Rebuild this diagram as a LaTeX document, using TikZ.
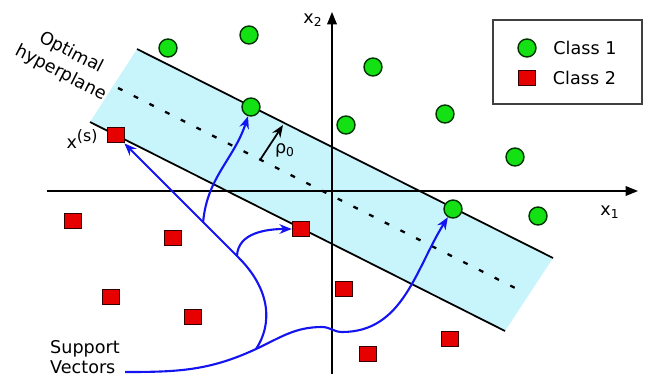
\documentclass[tikz,border=0pt]{standalone}
\usepackage{fontspec}
\setmainfont{DejaVu Sans}
\usepackage{xcolor}
\usetikzlibrary{arrows.meta, positioning, calc}
\definecolor{bandcyan}{RGB}{200,244,251}
\definecolor{ptgreen}{RGB}{20,225,20}
\definecolor{ptred}{RGB}{230,0,0}
\definecolor{svblue}{RGB}{20,20,240}

\begin{document}
\begin{tikzpicture}[x=0.02cm, y=-0.02cm,
  every node/.style={font=\fontsize{10}{11.5}\selectfont},
  class1/.style={circle, draw=black!80!green, line width=0.8pt, fill=ptgreen, minimum size=0.36cm, inner sep=0pt},
  class2/.style={rectangle, draw=black!80!red, line width=0.8pt, fill=ptred, minimum width=0.34cm, minimum height=0.31cm, inner sep=0pt},
  axis/.style={line width=0.7pt, -{Triangle[length=7pt,width=5.5pt]}},
  margin/.style={line width=1pt},
  svarrow/.style={svblue, line width=1.2pt, -{Stealth[length=7pt,width=5.5pt]}}]
\useasboundingbox (0,0) rectangle (645,376);

% margin band
\coordinate (ua) at (137,49);
\coordinate (ub) at (553,258);
\coordinate (la) at (90,122);
\coordinate (lb) at (505,331);
\coordinate (ma) at (118,88);
\coordinate (mb) at (525,293);
\fill[bandcyan] (ua) -- (ub) -- (lb) -- (la) -- cycle;

% axes
\coordinate (xa) at (47,191);
\coordinate (xb) at (638,191);
\coordinate (ya) at (332,374);
\coordinate (yb) at (332,12);
\draw[axis] (xa) -- (xb);
\draw[axis] (ya) -- (yb);
\node (x1) at (610,212) {x\textsubscript{1}};
\node (x2) at (313,20) {x\textsubscript{2}};

\draw[margin] (ua) -- (ub);
\draw[margin] (la) -- (lb);
\draw[line width=1.3pt, dash pattern=on 2.8pt off 7.2pt] (ma) -- (mb);

% rho arrow
\coordinate (rb) at (260,160);
\coordinate (rt) at (283,125);
\draw[line width=1pt, -{Stealth[length=7pt,width=5.5pt]}] (rb) -- (rt);
\node (rho) at (285,150) {ρ\textsubscript{0}};

% class 1
\node[class1] (c1) at (168,48) {};
\node[class1] (c2) at (249,35) {};
\node[class1] (c3) at (251,107) {};
\node[class1] (c4) at (373,67) {};
\node[class1] (c5) at (346,125) {};
\node[class1] (c6) at (445,114) {};
\node[class1] (c7) at (515,157) {};
\node[class1] (c8) at (453,209) {};
\node[class1] (c9) at (538,216) {};

% class 2
\node[class2] (s1) at (116,135) {};
\node[class2] (s2) at (73,221) {};
\node[class2] (s3) at (173,238) {};
\node[class2] (s4) at (301,229) {};
\node[class2] (s5) at (111,297) {};
\node[class2] (s6) at (193,317) {};
\node[class2] (s7) at (344,289) {};
\node[class2] (s8) at (450,339) {};
\node[class2] (s9) at (368,354) {};

\node (xs) at (82,139) {x\raisebox{0.75ex}{\fontsize{9}{10}\selectfont(s)}};
\node[rotate=-27, align=center, font=\fontsize{10}{13}\selectfont] (hyp) at (66,63) {Optimal\\hyperplane};

% legend
\draw[line width=0.8pt, black!75] (493,20) rectangle (642,104);
\node[class1] (lc1) at (527,48) {};
\node[right=6pt of lc1] (lt1) {Class 1};
\node[class2] (lc2) at (527,78) {};
\node[right=6pt of lc2] (lt2) {Class 2};

% support vectors
\node[align=left, anchor=west, inner sep=0.5pt] (sv) at (49,357) {Support\\Vectors};
\coordinate (svout) at (125,372);
\coordinate (j1) at (256,349);
\coordinate (j2) at (237,256);
\coordinate (j3) at ($(j2)!0.28!(s1)$);
\draw[svarrow] (svout) to[out=0,in=205] (j1) to[out=25,in=180] (322,327)
  to[out=0,in=180] (342,332) to[out=0,in=238] (c8);
\draw[svarrow] (j1) .. controls (272,325) and (272,290) .. (j2) -- (s1);
\draw[svarrow] (j2) to[out=88,in=180] (s4);
\draw[svarrow] (j3) to[out=85,in=-108] (c3);
\end{tikzpicture}
\end{document}
